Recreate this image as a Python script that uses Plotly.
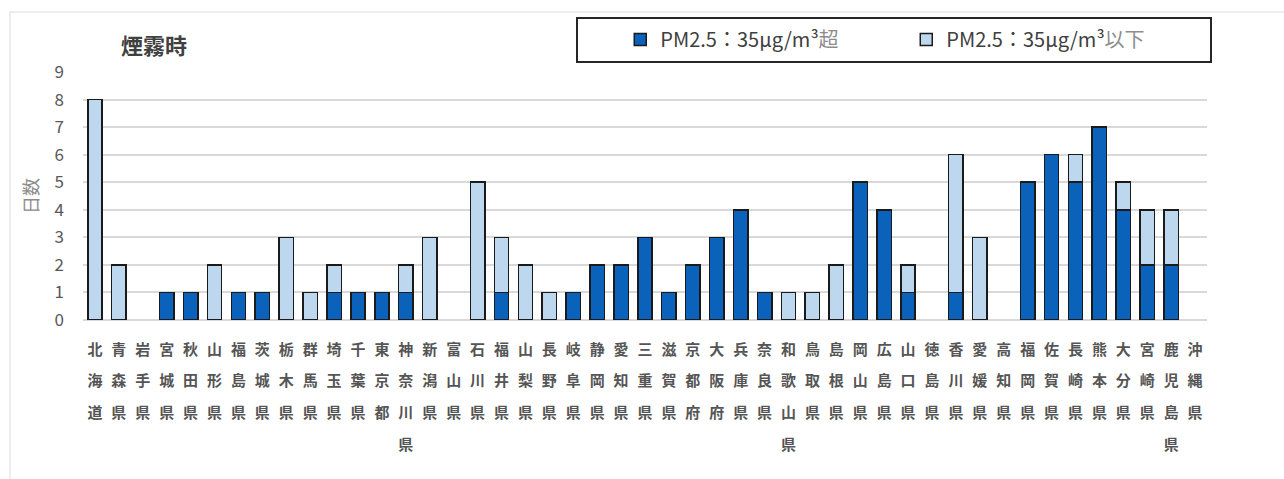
import plotly.graph_objects as go

prefectures = ["北海道","青森県","岩手県","宮城県","秋田県","山形県","福島県","茨城県","栃木県","群馬県",
               "埼玉県","千葉県","東京都","神奈川県","新潟県","富山県","石川県","福井県","山梨県","長野県",
               "岐阜県","静岡県","愛知県","三重県","滋賀県","京都府","大阪府","兵庫県","奈良県","和歌山県",
               "鳥取県","島根県","岡山県","広島県","山口県","徳島県","香川県","愛媛県","高知県","福岡県",
               "佐賀県","長崎県","熊本県","大分県","宮崎県","鹿児島県","沖縄県"]
over35 = [0,0,0,1,1,0,1,1,0,0, 1,1,1,1,0,0,0,1,0,0, 1,2,2,3,1,2,3,4,1,0, 0,0,5,4,1,0,1,0,0,5, 6,5,7,4,2,2,0]
under35 = [8,2,0,0,0,2,0,0,3,1, 1,0,0,1,3,0,5,2,2,1, 0,0,0,0,0,0,0,0,0,1, 1,2,0,0,1,0,5,3,0,0, 0,1,0,1,2,2,0]
y_ticks = [0,1,2,3,4,5,6,7,8,9]

name_over = "PM2.5：35μg/m³<span style='color:#8c8c8c'>超</span>"
name_under = "PM2.5：35μg/m³<span style='color:#8c8c8c'>以下</span>"

ticktext = ["<br>".join("<span style='font-size:15px'><b>%s</b></span>" % c for c in p) for p in prefectures]

def nz(vals):
    return [v if v else None for v in vals]

fig = go.Figure()
fig.add_trace(go.Bar(x=prefectures, y=nz(over35), name=name_over,
                     marker=dict(color="#0A62BA", line=dict(color="#1a1a1a", width=1.5))))
fig.add_trace(go.Bar(x=prefectures, y=nz(under35), name=name_under,
                     marker=dict(color="#BDD7EE", line=dict(color="#1a1a1a", width=1.5))))

fig.update_layout(
    barmode="stack", bargap=0.4,
    width=1284, height=479,
    margin=dict(l=83, r=77, t=72, b=159),
    paper_bgcolor="white", plot_bgcolor="white",
    font=dict(family="Noto Sans CJK JP", color="#404040"),
    showlegend=True,
    legend=dict(orientation="h", x=0.478, xanchor="left", y=1.21, yanchor="top",
                bgcolor="rgba(0,0,0,0)", borderwidth=0,
                font=dict(size=20, color="#404040", family="Noto Sans CJK JP"),
                entrywidth=241, traceorder="normal"),
    xaxis=dict(type="category", tickmode="array", tickvals=prefectures, ticktext=ticktext,
               tickangle=0, tickfont=dict(size=24.5, color="#555555", family="Noto Sans CJK JP"),
               showgrid=False, showline=False, ticks="", range=[-0.5, 46.5], ticklabelstandoff=9),
    yaxis=dict(range=[0, 9], tickvals=y_ticks, showgrid=True, gridcolor="#D9D9D9", gridwidth=1.5,
               zeroline=True, zerolinecolor="#D9D9D9", zerolinewidth=1.5,
               tickfont=dict(size=17, color="#595959"), ticks="", ticklabelstandoff=18,
               title=dict(text="日数", font=dict(size=18, color="#8c8c8c"), standoff=11)),
    annotations=[dict(text="<b>煙霧時</b>", xref="paper", yref="paper", x=(119-83)/1124, y=(320-44)/248,
                      xanchor="left", yanchor="middle", showarrow=False,
                      font=dict(size=22, color="#404040"))],
    shapes=[
        dict(type="rect", xref="paper", yref="paper", x0=(577-83)/1124, x1=(1211-83)/1124,
             y0=(320-62)/248, y1=(320-18)/248, line=dict(color="#262626", width=2), fillcolor="rgba(0,0,0,0)"),
        dict(type="line", xref="paper", yref="paper", x0=(10-83)/1124, x1=(1284-83)/1124,
             y0=(320-12)/248, y1=(320-12)/248, line=dict(color="#D9D9D9", width=1)),
        dict(type="line", xref="paper", yref="paper", x0=(10-83)/1124, x1=(10-83)/1124,
             y0=(320-12)/248, y1=(320-479)/248, line=dict(color="#D9D9D9", width=1)),
    ],
)

fig.write_html("out.html")
